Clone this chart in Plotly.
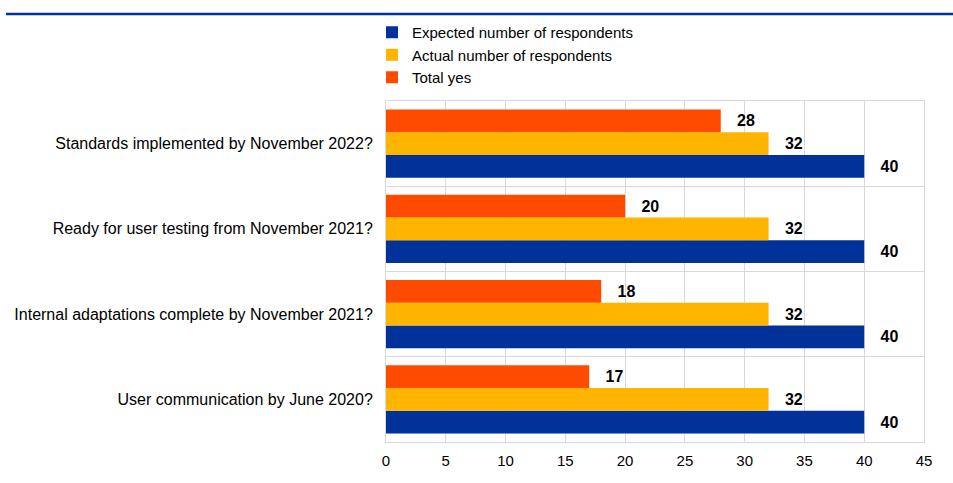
import plotly.graph_objects as go

# Survey questions, listed bottom to top
questions = [
    "User communication by June 2020?",
    "Internal adaptations complete by November 2021?",
    "Ready for user testing from November 2021?",
    "Standards implemented by November 2022?",
]
expected = [40, 40, 40, 40]
actual = [32, 32, 32, 32]
total_yes = [17, 18, 20, 28]

series = [
    ("Expected number of respondents", expected, "#003299"),
    ("Actual number of respondents", actual, "#FFB400"),
    ("Total yes", total_yes, "#FF4B00"),
]

FONT = "Liberation Sans, Arial, sans-serif"
GRID = "#d9d9d9"

fig = go.Figure()
for name, vals, color in series:
    fig.add_trace(go.Bar(
        y=questions,
        x=vals,
        name=name,
        orientation="h",
        marker=dict(color=color, line=dict(width=0)),
        text=vals,
        texttemplate="   <b>%{x}</b>",
        textposition="outside",
        constraintext="none",
        cliponaxis=False,
        textfont=dict(family=FONT, size=16, color="#000000"),
    ))

fig.update_layout(
    template="none",
    width=953,
    height=483,
    margin=dict(l=386, r=29, t=101, b=41, autoexpand=False),
    paper_bgcolor="white",
    plot_bgcolor="white",
    barmode="group",
    bargap=0.2,
    bargroupgap=0,
    font=dict(family=FONT, size=15, color="#000000"),
    showlegend=True,
    legend=dict(
        x=-14 / 538, xanchor="left",
        y=1 + 85 / 341, yanchor="top",
        traceorder="normal",
        font=dict(family=FONT, size=15, color="#000000"),
        itemclick=False,
        tracegroupgap=0,
        bgcolor="rgba(0,0,0,0)",
    ),
    xaxis=dict(
        range=[0, 45],
        tickvals=list(range(0, 50, 5)),
        showgrid=True,
        gridcolor=GRID,
        gridwidth=1,
        zeroline=False,
        showline=True,
        linecolor=GRID,
        mirror=True,
        ticks="",
        automargin=False,
        ticklabelstandoff=5,
        tickfont=dict(family=FONT, size=15, color="#000000"),
        fixedrange=True,
    ),
    yaxis=dict(
        type="category",
        categoryorder="array",
        categoryarray=questions,
        tickson="boundaries",
        showgrid=True,
        gridcolor=GRID,
        gridwidth=1,
        showline=True,
        linecolor=GRID,
        mirror=True,
        ticks="",
        automargin=False,
        ticklabelstandoff=9,
        tickfont=dict(family=FONT, size=16, color="#000000"),
        fixedrange=True,
    ),
    shapes=[
        dict(type="line", xref="paper", yref="paper",
             x0=-380 / 538, x1=567 / 538,
             y0=1 + 87 / 341, y1=1 + 87 / 341,
             line=dict(color="#003299", width=2.5)),
    ],
)

fig.write_html("out.html", config={"displayModeBar": False})
